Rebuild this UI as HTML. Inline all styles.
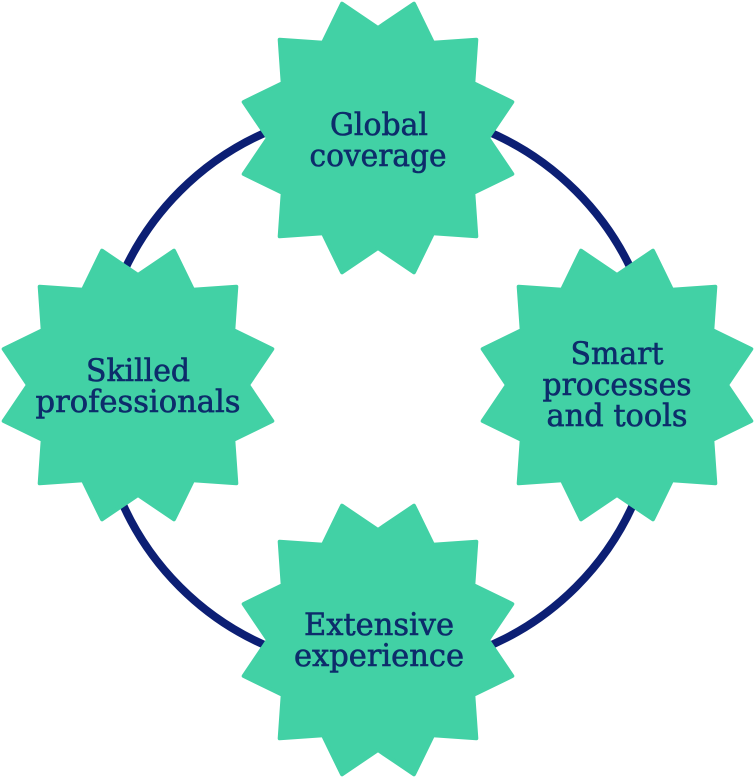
<!DOCTYPE html>
<html><head><style>html,body{margin:0;padding:0;background:#fff}svg{display:block}</style></head>
<body>
<svg width="756" height="777" viewBox="0 0 756 777" xmlns="http://www.w3.org/2000/svg">
<circle cx="378" cy="389" r="280" fill="none" stroke="#0c1f74" stroke-width="8"/>
<g id="stars" fill="#42d1a5" stroke="#42d1a5" stroke-width="4" stroke-linejoin="round"></g>
<g font-family="'DejaVu Serif','Liberation Serif',serif" font-size="31" fill="#0d2c6b" stroke="#0d2c6b" stroke-width="0.6" text-anchor="middle">
<text x="379" y="135" textLength="98" lengthAdjust="spacingAndGlyphs">Global</text>
<text x="378" y="166" textLength="137" lengthAdjust="spacingAndGlyphs">coverage</text>
<text x="138" y="381" textLength="104" lengthAdjust="spacingAndGlyphs">Skilled</text>
<text x="138" y="412" textLength="205" lengthAdjust="spacingAndGlyphs">professionals</text>
<text x="617" y="364" textLength="93" lengthAdjust="spacingAndGlyphs">Smart</text>
<text x="617" y="395" textLength="149" lengthAdjust="spacingAndGlyphs">processes</text>
<text x="617" y="426" textLength="141" lengthAdjust="spacingAndGlyphs">and tools</text>
<text x="379" y="635" textLength="150" lengthAdjust="spacingAndGlyphs">Extensive</text>
<text x="379" y="666" textLength="170" lengthAdjust="spacingAndGlyphs">experience</text>
</g>
<script>
var g=document.getElementById('stars'),ns='http://www.w3.org/2000/svg';
[[378,138],[138,385],[617,385],[378,640]].forEach(function(c){
 var p=[];for(var i=0;i<24;i++){var a=(i*15+15)*Math.PI/180,r=i%2?110:139;p.push((c[0]+r*Math.cos(a)).toFixed(1)+','+(c[1]+r*Math.sin(a)).toFixed(1));}
 var e=document.createElementNS(ns,'polygon');e.setAttribute('points',p.join(' '));g.appendChild(e);});
</script>
</svg>
</body></html>
